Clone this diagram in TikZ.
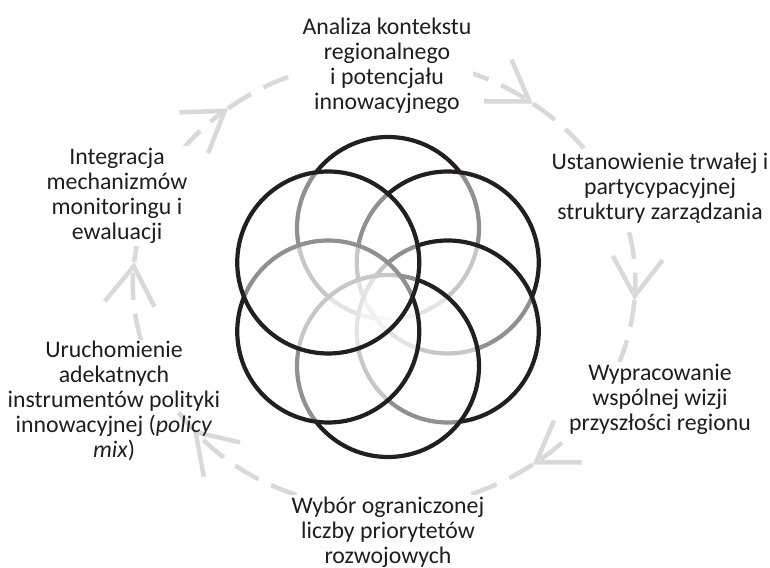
\documentclass[tikz,border=0pt]{standalone}
\usepackage{fontspec}
\setmainfont{Carlito}
\usepackage{tikz}
\usetikzlibrary{arrows.meta}
\definecolor{ink}{HTML}{231F20}
\definecolor{cyclegray}{HTML}{D9D9D9}
\definecolor{textgray}{HTML}{1E1E1E}

\begin{document}
\begin{tikzpicture}[x=0.5pt,y=0.5pt,
  ring/.style={draw=ink,line width=2.1pt,fill=white,fill opacity=0.5},
  cycline/.style={draw=cyclegray,line width=2.25pt,dash pattern=on 13.5pt off 7pt},
  cycarc/.style={cycline,-{Straight Barb[length=19pt,width=25pt]}},
  lbl/.style={fill=white,inner sep=1pt,align=center,text=textgray,font=\fontsize{11.9}{12.5}\selectfont}]
\useasboundingbox (0,0) rectangle (770,567);
\coordinate (c) at (388,270);
\coordinate (e) at (384,283);
% arrow tips on the dashed cycle
\path (e) ++(53.6:251 and 224) coordinate (a1);
\path (e) ++(-4.1:251 and 224) coordinate (a2);
\path (e) ++(-53.7:251 and 224) coordinate (a3);
\path (e) ++(-139.6:251 and 224) coordinate (a4);
\path (e) ++(174.4:251 and 224) coordinate (a5);
\path (e) ++(128.4:251 and 224) coordinate (a6);
\path (e) ++(-165.5:251 and 224) coordinate (a5b);
\draw[cycarc] (a6) arc[start angle=128.4,end angle=53.6,x radius=251,y radius=224];
\draw[cycarc] (a1) arc[start angle=53.6,end angle=-4.1,x radius=251,y radius=224];
\draw[cycarc] (a2) arc[start angle=-4.1,end angle=-53.7,x radius=251,y radius=224];
\draw[cycarc] (a3) arc[start angle=-53.7,end angle=-139.6,x radius=251,y radius=224];
% left arc runs behind the text of l4
\draw[cycline] (a4) arc[start angle=-139.6,end angle=-145,x radius=251,y radius=224];
\draw[cycarc] (a5b) arc[start angle=-165.5,end angle=-185.6,x radius=251,y radius=224];
\draw[cycarc] (a5) arc[start angle=174.4,end angle=128.4,x radius=251,y radius=224];
% overlapping rings
\draw[ring] (c) ++(90:69) circle[radius=91];
\draw[ring] (c) ++(30:69) circle[radius=91];
\draw[ring] (c) ++(-30:69) circle[radius=91];
\draw[ring] (c) ++(-90:69) circle[radius=91];
\draw[ring] (c) ++(-150:69) circle[radius=91];
\draw[ring] (c) ++(150:69) circle[radius=91];
% step labels
\node[lbl] (l0) at (387,501) {Analiza kontekstu\\regionalnego\\i potencjału\\innowacyjnego};
\node[lbl] (l1) at (660,379) {Ustanowienie trwałej i\\partycypacyjnej\\struktury zarządzania};
\node[lbl] (l2) at (660,168) {Wypracowanie\\wspólnej wizji\\przyszłości regionu};
\node[lbl] (l3) at (388,35) {Wybór ograniczonej\\liczby priorytetów\\rozwojowych};
\node[lbl,fill=none] (l4) at (114,166) {Uruchomienie\\adekatnych\\instrumentów polityki\\innowacyjnej (\textit{policy}\\\textit{mix})};
\node[lbl] (l5) at (117,371) {Integracja\\mechanizmów\\monitoringu i\\ewaluacji};
\end{tikzpicture}
\end{document}
